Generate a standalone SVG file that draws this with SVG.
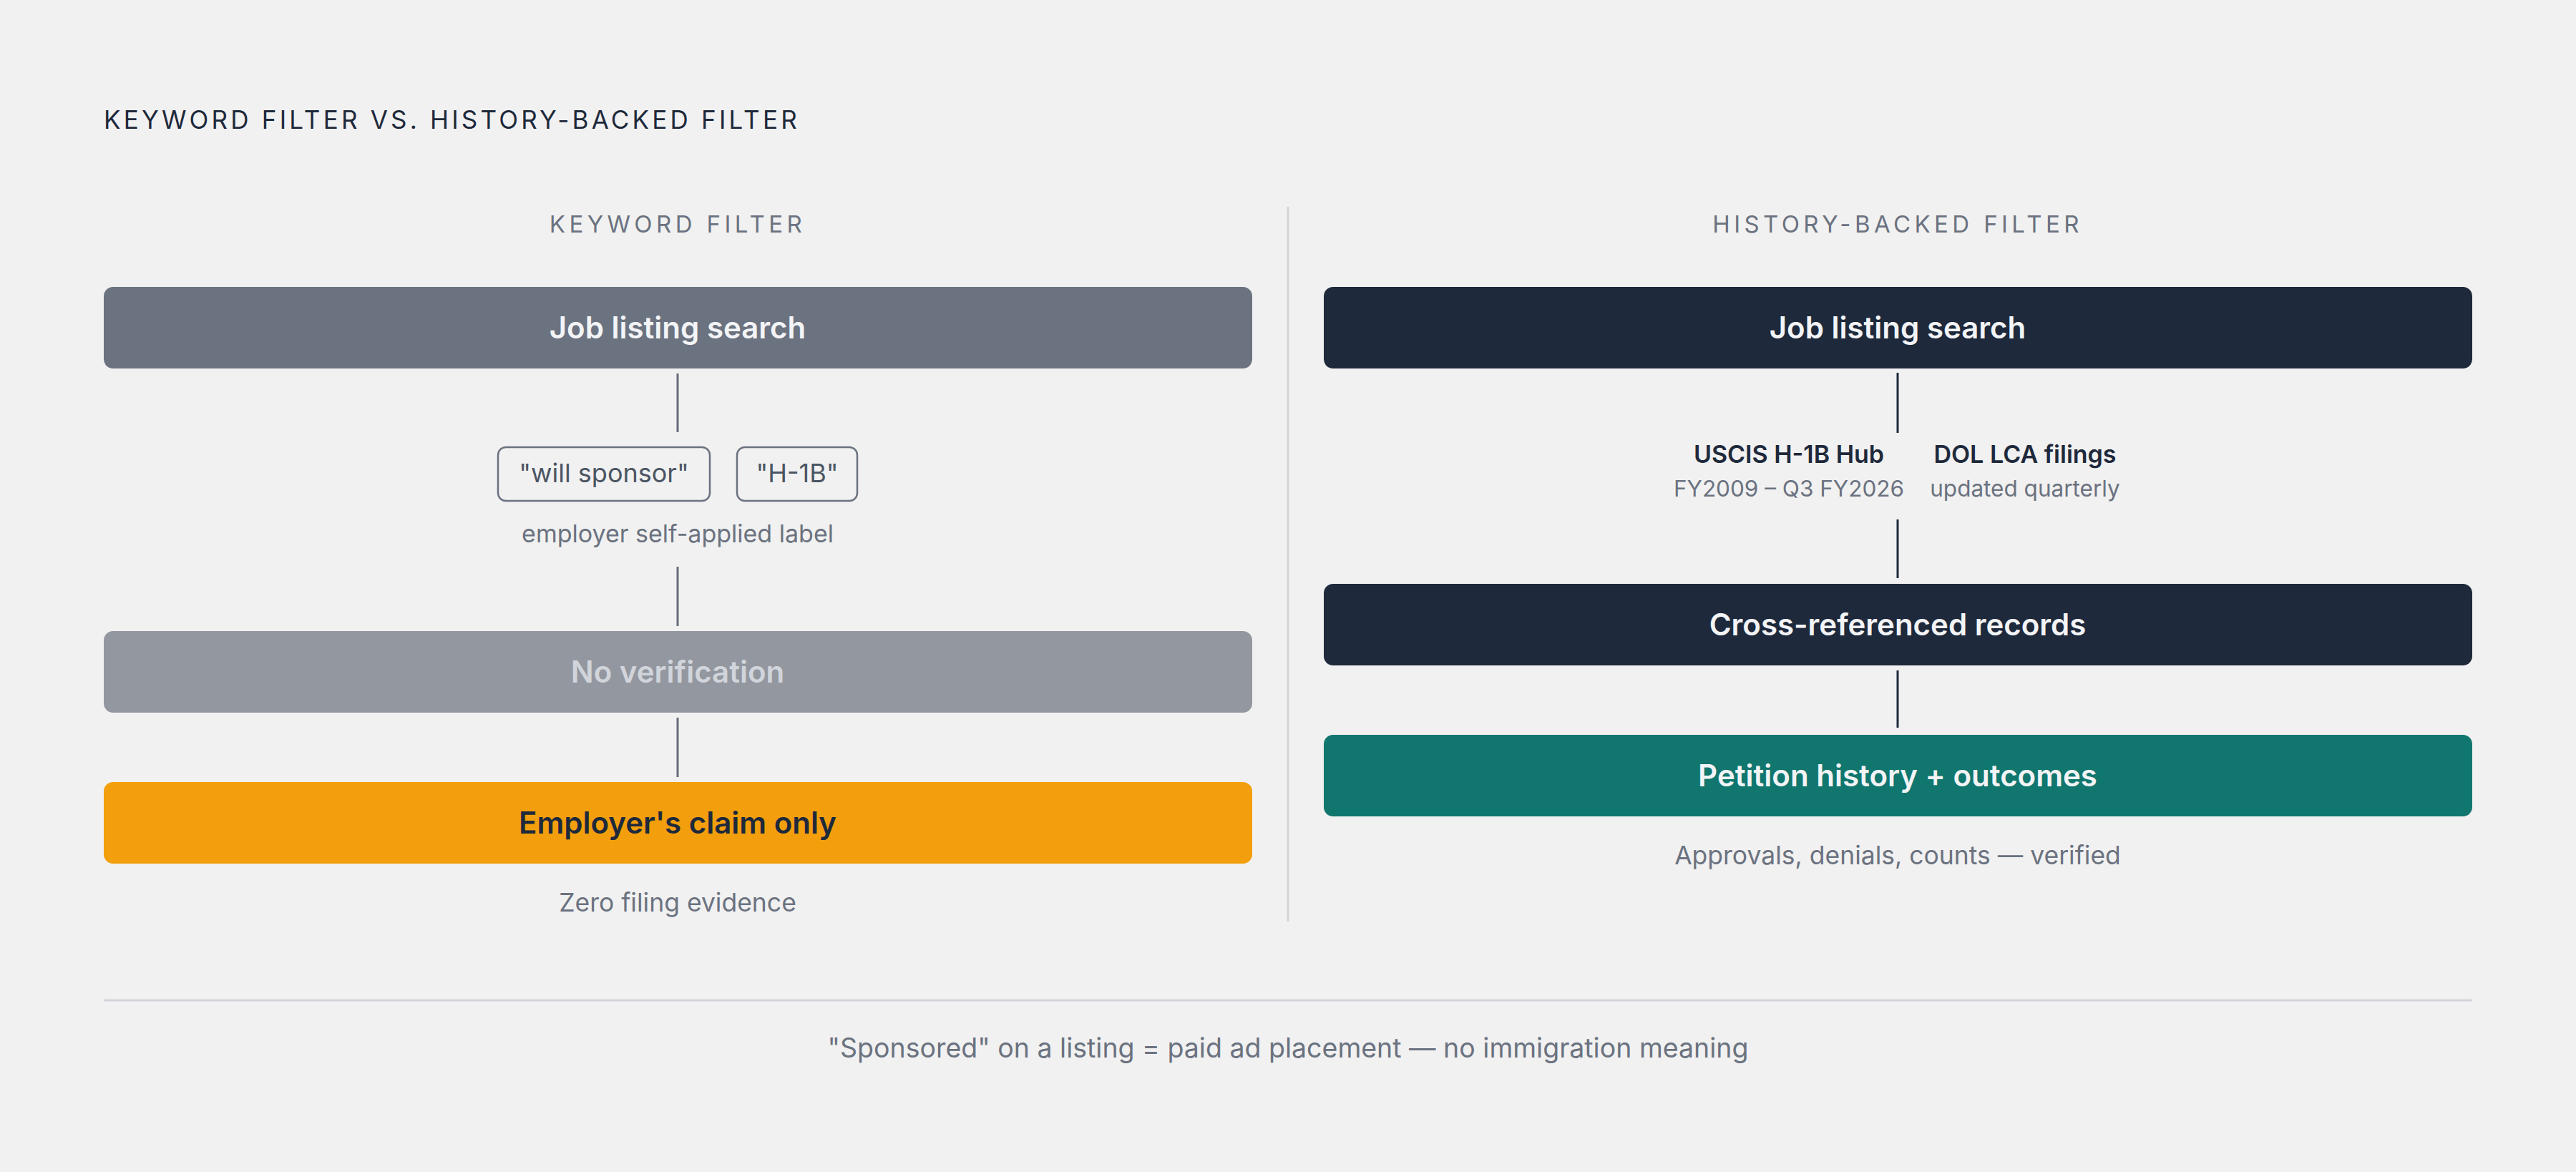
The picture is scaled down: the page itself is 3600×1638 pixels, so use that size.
<svg xmlns="http://www.w3.org/2000/svg" width="3600" height="1638" viewBox="0 0 3600 1638">
<style>
  text{font-family:Inter,"DejaVu Sans",sans-serif;}
  .title{font-size:35px;fill:#1e293b;letter-spacing:4.2px;font-weight:400;}
  .sub{font-size:33px;fill:#6b7280;letter-spacing:5.4px;}
  .bt{font-size:42px;font-weight:600;text-anchor:middle;}
  .sm{font-size:35.5px;fill:#6b7280;text-anchor:middle;}
  .lbl{font-size:34px;fill:#6b7280;text-anchor:middle;}
  .foot{font-size:37.5px;fill:#6b7280;text-anchor:middle;}
  .pill{font-size:36px;fill:#4b5563;text-anchor:middle;}
  .src{font-size:34px;font-weight:600;fill:#1e293b;text-anchor:middle;}
  .srcs{font-size:31.5px;fill:#6b7280;text-anchor:middle;}
  .cl{stroke:#646b78;stroke-width:3;}
  .cr{stroke:#1e293b;stroke-width:3;}
</style>
<rect width="3600" height="1638" fill="#f1f1f1"/>
<text class="title" x="145" y="180">KEYWORD FILTER VS. HISTORY-BACKED FILTER</text>
<line x1="1800" y1="289" x2="1800" y2="1288" stroke="#d1d5db" stroke-width="3"/>
<text class="sub" x="947" y="325" text-anchor="middle">KEYWORD FILTER</text>
<text class="sub" x="2652" y="325" text-anchor="middle">HISTORY-BACKED FILTER</text>
<g id="connectors">
  <line class="cl" x1="947" y1="522" x2="947" y2="604"/>
  <line class="cl" x1="947" y1="792" x2="947" y2="875"/>
  <line class="cl" x1="947" y1="1003" x2="947" y2="1086"/>
  <line class="cr" x1="2652" y1="521" x2="2652" y2="605"/>
  <line class="cr" x1="2652" y1="726" x2="2652" y2="808"/>
  <line class="cr" x1="2652" y1="937" x2="2652" y2="1017"/>
</g>
<g id="l-search">
  <rect x="145" y="401" width="1605" height="114" rx="13" fill="#6b7280"/>
  <text class="bt" x="947" y="473" fill="#f3f4f6">Job listing search</text>
</g>
<g id="l-keywords">
  <rect x="696" y="625" width="296" height="75" rx="11" fill="none" stroke="#6b7280" stroke-width="2.5"/>
  <text class="pill" x="844" y="674">"will sponsor"</text>
  <rect x="1030" y="625" width="168" height="75" rx="11" fill="none" stroke="#6b7280" stroke-width="2.5"/>
  <text class="pill" x="1114" y="674">"H-1B"</text>
  <text class="lbl" x="947" y="758">employer self-applied label</text>
</g>
<g id="l-noverify">
  <rect x="145" y="882" width="1605" height="114" rx="13" fill="#93979f"/>
  <text class="bt" x="947" y="954" fill="#d1d5db">No verification</text>
</g>
<g id="l-claim">
  <rect x="145" y="1093" width="1605" height="114" rx="13" fill="#f39f0d"/>
  <text class="bt" x="947" y="1165" fill="#1e293b" font-weight="700">Employer's claim only</text>
  <text class="sm" x="947" y="1274">Zero filing evidence</text>
</g>
<g id="r-search">
  <rect x="1850" y="401" width="1605" height="114" rx="13" fill="#1e293b"/>
  <text class="bt" x="2652" y="473" fill="#f3f4f6">Job listing search</text>
</g>
<g id="r-sources">
  <text class="src" x="2500" y="647">USCIS H-1B Hub</text>
  <text class="srcs" x="2500" y="694">FY2009 – Q3 FY2026</text>
  <text class="src" x="2830" y="647">DOL LCA filings</text>
  <text class="srcs" x="2830" y="694">updated quarterly</text>
</g>
<g id="r-cross">
  <rect x="1850" y="816" width="1605" height="114" rx="13" fill="#1e293b"/>
  <text class="bt" x="2652" y="888" fill="#f3f4f6">Cross-referenced records</text>
</g>
<g id="r-petition">
  <rect x="1850" y="1027" width="1605" height="114" rx="13" fill="#10766e"/>
  <text class="bt" x="2652" y="1099" fill="#f3f4f6">Petition history + outcomes</text>
  <text class="sm" x="2652" y="1208">Approvals, denials, counts — verified</text>
</g>
<line x1="145" y1="1398" x2="3455" y2="1398" stroke="#d1d5db" stroke-width="3"/>
<text class="foot" x="1800" y="1478">"Sponsored" on a listing = paid ad placement — no immigration meaning</text>
</svg>
